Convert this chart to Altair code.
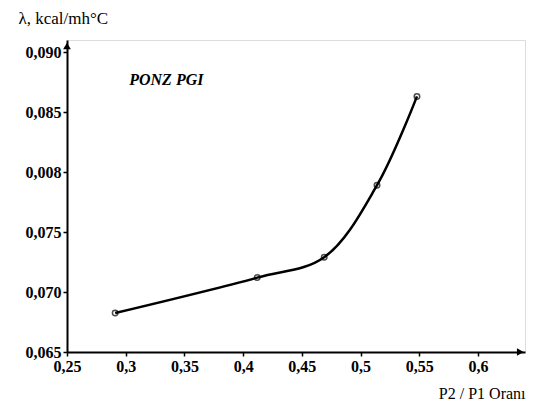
import altair as alt
import pandas as pd

ratio = [0.291, 0.412, 0.469, 0.514, 0.548]
lam = [0.06825, 0.0712, 0.0729, 0.0789, 0.0863]

df = pd.DataFrame({"x": ratio, "y": lam})

FONT = "Liberation Serif"

xs = alt.Scale(domain=[0.25, 0.64], nice=False, zero=False)
ys = alt.Scale(domain=[0.065, 0.091], nice=False, zero=False)

xaxis = alt.Axis(
    values=[0.25, 0.3, 0.35, 0.4, 0.45, 0.5, 0.55, 0.6],
    labelExpr="replace(format(datum.value, '.2~f'), '.', ',')",
    grid=False, domainWidth=2, domainColor="black", tickColor="black",
    tickSize=4, tickWidth=1.5, labelFont=FONT, labelFontSize=16, labelFontWeight="bold",
    labelColor="black", labelPadding=2, labelFlush=False,
    title="P2 / P1 Oranı", titleFont=FONT, titleFontSize=16, titleFontWeight="normal",
    titleColor="black", titleX=458, titleY=41, titleAlign="right", titleBaseline="middle",
)
yaxis = alt.Axis(
    values=[0.065, 0.07, 0.075, 0.08, 0.085, 0.09],
    labelExpr="datum.value > 0.0795 && datum.value < 0.0805 ? '0,008' : replace(format(datum.value, '.3f'), '.', ',')",
    grid=False, domainWidth=2, domainColor="black", tickColor="black",
    tickSize=4, tickWidth=1.5, labelFont=FONT, labelFontSize=16, labelFontWeight="bold",
    labelColor="black", labelPadding=2,
    title="λ, kcal/mh°C", titleFont=FONT, titleFontSize=17, titleFontWeight="normal",
    titleColor="black", titleAngle=0, titleX=-49, titleY=-22, titleAlign="left",
    titleBaseline="middle",
)

base = alt.Chart(df)
line = base.mark_line(color="black", strokeWidth=2.5, interpolate="catmull-rom").encode(
    x=alt.X("x:Q", scale=xs, axis=xaxis),
    y=alt.Y("y:Q", scale=ys, axis=yaxis),
)
pts = base.mark_point(color="black", size=30, strokeWidth=1.5, filled=False).encode(
    x=alt.X("x:Q", scale=xs), y=alt.Y("y:Q", scale=ys)
)

label = alt.Chart(pd.DataFrame({"x": [0.303], "y": [0.0877], "t": ["PONZ PGI"]})).mark_text(
    font=FONT, fontSize=16, fontStyle="italic", fontWeight="bold", align="left", color="black"
).encode(x=alt.X("x:Q", scale=xs), y=alt.Y("y:Q", scale=ys), text="t:N")

arrow_y = alt.Chart(pd.DataFrame({"x": [0.25], "y": [0.0905]})).mark_point(
    shape="triangle-up", filled=True, color="black", size=60, opacity=1
).encode(x=alt.X("x:Q", scale=xs), y=alt.Y("y:Q", scale=ys))
arrow_x = alt.Chart(pd.DataFrame({"x": [0.636], "y": [0.065]})).mark_point(
    shape="triangle-right", filled=True, color="black", size=60, opacity=1
).encode(x=alt.X("x:Q", scale=xs), y=alt.Y("y:Q", scale=ys))

chart = alt.layer(line, pts, label, arrow_y, arrow_x).properties(
    width=458, height=312,
    autosize=alt.AutoSizeParams(type="none"),
    padding={"left": 67, "top": 40, "right": 8, "bottom": 59},
).configure_view(stroke=None).configure(background="white")

chart.save("out.html", embed_options={"renderer": "svg", "actions": False})
